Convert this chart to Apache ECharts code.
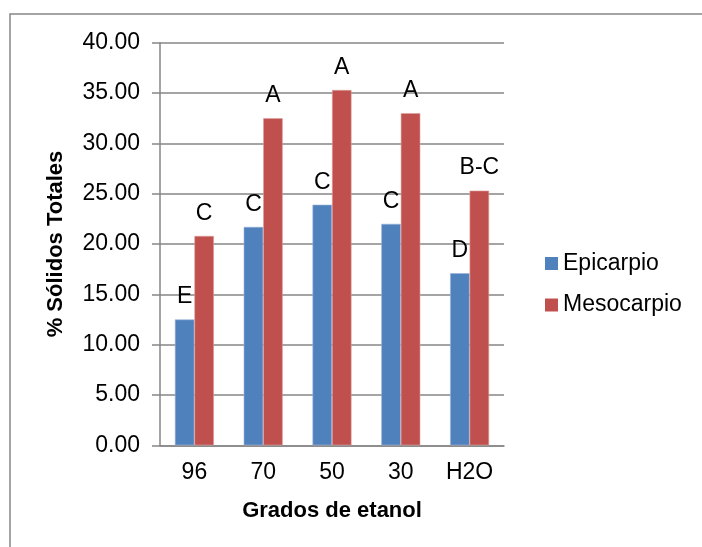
<!DOCTYPE html>
<html>
<head>
<meta charset="utf-8">
<script src="https://cdn.jsdelivr.net/npm/echarts@6/dist/echarts.min.js"></script>
<style>
  html, body { margin: 0; padding: 0; background: #fff; }
  #chart { width: 702px; height: 547px; }
</style>
</head>
<body>
<div id="chart"></div>
<script>
// Ethanol grade used for the extraction
const categories = ['96', '70', '50', '30', 'H2O'];

// Total solids (%) per fruit tissue
const epicarpio = [12.5, 21.7, 23.9, 22.0, 17.1];
const mesocarpio = [20.8, 32.5, 35.3, 33.0, 25.3];

// Significance groups printed over each bar
const epicarpioGroups = ['E', 'C', 'C', 'C', 'D'];
const mesocarpioGroups = ['C', 'A', 'A', 'A', 'B-C'];

// Value axis ticks
const yMin = 0, yMax = 40, yStep = 5;

const FONT = '"Liberation Sans", Arial, sans-serif';
const GRID = '#868686';
const FS = 23;

function seriesData(values, groups) {
  return values.map((v, i) => ({ value: v, group: groups[i] }));
}

function barLabel() {
  return {
    show: true,
    position: 'top',
    distance: 11,
    color: '#000',
    fontFamily: FONT,
    fontSize: FS,
    formatter: p => p.data.group
  };
}

const chart = echarts.init(document.getElementById('chart'), null, { renderer: 'canvas' });

chart.setOption({
  animation: false,
  backgroundColor: '#fff',
  textStyle: { fontFamily: FONT, color: '#000' },
  graphic: [{
    type: 'rect',
    shape: { x: 10, y: 14, width: 720, height: 560 },
    style: { fill: null, stroke: GRID, lineWidth: 1.5 },
    silent: true
  }],
  grid: { left: 160, right: 198, top: 42.7, bottom: 101.7, containLabel: false },
  legend: {
    orient: 'vertical',
    left: 545,
    top: 252,
    padding: 0,
    itemWidth: 13,
    itemHeight: 13,
    itemGap: 18.5,
    icon: 'rect',
    itemStyle: { borderWidth: 0 },
    textStyle: { fontFamily: FONT, fontSize: FS, color: '#000', lineHeight: 23, padding: [0, 0, 0, 0] },
    data: ['Epicarpio', 'Mesocarpio']
  },
  xAxis: {
    type: 'category',
    data: categories,
    name: 'Grados de etanol',
    nameLocation: 'middle',
    nameGap: 55,
    nameTextStyle: { fontFamily: FONT, fontSize: 22, fontWeight: 'bold', color: '#000' },
    axisLine: { show: true, lineStyle: { color: GRID, width: 1.5 } },
    axisTick: { show: false },
    axisLabel: { fontFamily: FONT, fontSize: FS, color: '#000', margin: 16 },
    splitLine: { show: false }
  },
  yAxis: {
    type: 'value',
    min: yMin,
    max: yMax,
    interval: yStep,
    name: '% Sólidos Totales',
    nameLocation: 'middle',
    nameGap: 93,
    nameRotate: 90,
    nameTextStyle: { fontFamily: FONT, fontSize: 22, fontWeight: 'bold', color: '#000' },
    axisLine: { show: true, lineStyle: { color: GRID, width: 1.5 } },
    axisTick: { show: true, length: 8, lineStyle: { color: GRID, width: 1.5 } },
    axisLabel: { fontFamily: FONT, fontSize: FS, color: '#000', margin: 20, formatter: v => v.toFixed(2) },
    splitLine: { show: true, lineStyle: { color: GRID, width: 1.5 } }
  },
  series: [
    {
      name: 'Epicarpio',
      type: 'bar',
      barWidth: 19.5,
      barGap: '0%',
      itemStyle: { color: '#4F81BD', borderColor: '#9DB6DA', borderWidth: 0.6 },
      label: barLabel(),
      data: seriesData(epicarpio, epicarpioGroups)
    },
    {
      name: 'Mesocarpio',
      type: 'bar',
      barWidth: 19.5,
      barGap: '0%',
      itemStyle: { color: '#C0504D', borderColor: '#DDA09E', borderWidth: 0.6 },
      label: barLabel(),
      data: seriesData(mesocarpio, mesocarpioGroups)
    }
  ]
});
</script>
</body>
</html>
